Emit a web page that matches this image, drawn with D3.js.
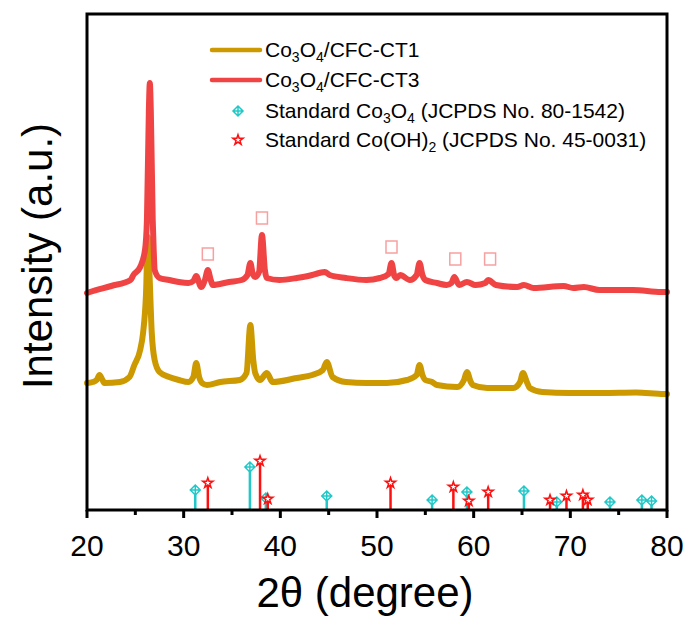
<!DOCTYPE html>
<html>
<head>
<meta charset="utf-8">
<script src="https://cdn.jsdelivr.net/npm/d3@7"></script>
<style>
  body { margin: 0; background: #fff; }
  text { font-family: "Liberation Sans", Arial, sans-serif; fill: #000; }
</style>
</head>
<body>
<div id="chart"></div>
<script>
// XRD patterns, 2theta (degree) vs intensity (a.u.)
const ct3 = [
  [20.0, 217], [20.3, 218], [22.5, 224], [24.5, 230], [24.8, 235], [25.5, 243], [26.0, 260],
  [26.2, 290], [26.4, 400], [26.5, 427], [26.6, 400], [26.8, 290], [26.9, 260], [27.0, 240],
  [27.5, 232], [28.5, 230], [29.5, 228], [30.5, 227], [31.0, 229], [31.3, 234], [31.8, 223],
  [32.2, 230], [32.5, 240], [32.8, 230], [33.0, 225], [34.7, 228], [36.0, 230], [36.6, 235],
  [36.9, 247], [37.15, 236], [37.4, 233], [37.8, 238], [38.1, 275], [38.4, 240], [38.6, 232],
  [39.9, 230], [41.7, 232], [43.3, 235], [44.0, 237], [44.6, 238], [45.1, 235], [46.8, 232],
  [48.9, 230], [50.3, 232], [51.2, 236], [51.5, 247], [51.8, 234], [52.0, 232], [52.4, 235],
  [53.4, 230], [54.1, 235], [54.4, 247], [54.7, 235], [55.0, 230], [56.2, 227], [57.2, 225],
  [57.7, 227], [58.0, 233], [58.5, 225], [59.3, 228], [60.2, 225], [61.2, 227], [61.5, 230],
  [62.3, 225], [64.5, 223], [65.2, 225], [66.2, 222], [69.3, 224], [70.3, 222], [71.4, 223],
  [73.0, 220], [76.5, 220], [79.4, 218], [80.0, 218]
];
const ct1 = [
  [20.0, 127], [20.6, 128], [21.0, 130], [21.3, 135], [21.6, 130], [21.8, 127], [23.4, 128],
  [24.4, 133], [24.9, 145], [25.5, 160], [25.8, 177], [26.1, 215], [26.3, 273], [26.45, 240],
  [26.7, 177], [27.0, 150], [27.5, 138], [28.5, 133], [29.5, 130], [30.5, 128], [31.0, 133],
  [31.3, 147], [31.6, 133], [31.9, 127], [32.4, 125], [33.8, 128], [35.8, 130], [36.5, 137],
  [36.9, 185], [37.2, 150], [37.4, 137], [37.9, 130], [38.6, 137], [39.2, 128], [41.7, 132],
  [43.3, 135], [44.4, 140], [44.8, 148], [45.4, 133], [46.8, 128], [48.9, 127], [51.0, 127],
  [53.1, 130], [54.1, 135], [54.4, 145], [54.7, 135], [55.0, 130], [55.7, 128], [56.2, 125],
  [58.3, 123], [59.0, 130], [59.3, 138], [59.7, 128], [59.9, 125], [61.4, 122], [64.1, 122],
  [64.8, 128], [65.1, 137], [65.5, 128], [65.8, 122], [67.1, 118], [69.9, 117], [73.3, 117],
  [76.8, 117.5], [79.7, 116], [80.0, 116]
];

// standard reference lines (relative intensity, 0-100)
const co3o4Std = [
  [31.2, 40], [36.85, 86], [38.5, 24], [44.8, 28], [55.7, 20], [59.3, 36],
  [65.2, 38], [68.6, 16], [74.1, 16], [77.4, 20], [78.4, 18]
];
const cooh2Std = [
  [32.5, 54], [37.9, 98], [38.7, 22], [51.4, 54], [57.9, 46], [59.5, 18],
  [61.5, 36], [67.9, 20], [69.6, 28], [71.3, 30], [71.8, 20]
];

// peak marks (the hollow boxes above the CT3 curve)
const peakMarks = [[32.5, 256], [38.1, 292], [51.5, 263], [58.1, 251], [61.7, 251]];

const xTicks = [20, 30, 40, 50, 60, 70, 80];
const xMinor = [25, 35, 45, 55, 65, 75];

const W = 689, H = 619;
const margin = {top: 14, right: 22, bottom: 109, left: 87};
const width = W - margin.left - margin.right;
const height = H - margin.top - margin.bottom;

const svg = d3.select("#chart").append("svg")
    .attr("width", W)
    .attr("height", H);

const g = svg.append("g")
    .attr("transform", `translate(${margin.left},${margin.top})`);

const x = d3.scaleLinear().domain([20, 80]).range([0, width]);
const y = d3.scaleLinear().domain([0, height]).range([height, 0]);
const yStd = d3.scaleLinear().domain([0, 100]).range([height, height - 50]);

// standard sticks
function drawStd(data, color, shape) {
    let grp = g.append("g");
    grp.selectAll("line")
        .data(data)
        .enter().append("line")
        .attr("x1", d => x(d[0])).attr("x2", d => x(d[0]))
        .attr("y1", height).attr("y2", d => yStd(d[1]))
        .attr("stroke", color)
        .attr("stroke-width", 2.5);
    grp.selectAll("path")
        .data(data)
        .enter().append("path")
        .attr("d", shape)
        .attr("transform", d => `translate(${x(d[0])},${yStd(d[1])})`)
        .attr("fill", "#fff")
        .attr("stroke", color)
        .attr("stroke-width", 1.5);
}
const diamond = "M0,-5L5,0L0,5L-5,0ZM0,-5V5M-5,0H5";
const star = d3.symbol().type(d3.symbolStar).size(32)();
const cyan = "#22c8c8", red = "#ff1010";
drawStd(co3o4Std, cyan, diamond);
drawStd(cooh2Std, red, star);

// curves
const line = d3.line()
    .x(d => x(d[0]))
    .y(d => y(d[1]))
    .curve(d3.curveMonotoneX);

const gold = "#cc9900", redLine = "#f04444";
g.append("path").datum(ct1)
    .attr("d", line)
    .attr("fill", "none")
    .attr("stroke", gold)
    .attr("stroke-width", 6)
    .attr("stroke-linejoin", "round")
    .attr("stroke-linecap", "round");
g.append("path").datum(ct3)
    .attr("d", line)
    .attr("fill", "none")
    .attr("stroke", redLine)
    .attr("stroke-width", 6)
    .attr("stroke-linejoin", "round")
    .attr("stroke-linecap", "round");

// hollow boxes marking peaks
g.selectAll(".mark")
    .data(peakMarks)
    .enter().append("rect")
    .attr("class", "mark")
    .attr("x", d => x(d[0]) - 5.5)
    .attr("y", d => y(d[1]) - 6)
    .attr("width", 11)
    .attr("height", 12)
    .attr("fill", "none")
    .attr("stroke", "#f7a0a0")
    .attr("stroke-width", 1.5);

// frame
g.append("rect")
    .attr("width", width).attr("height", height)
    .attr("fill", "none")
    .attr("stroke", "#000")
    .attr("stroke-width", 3);

// x axis
const xAxis = g.append("g")
    .attr("transform", `translate(0,${height})`);
xAxis.selectAll(".major")
    .data(xTicks)
    .enter().append("line")
    .attr("x1", d => x(d)).attr("x2", d => x(d))
    .attr("y1", 0).attr("y2", 8)
    .attr("stroke", "#000").attr("stroke-width", 3);
xAxis.selectAll(".minor")
    .data(xMinor)
    .enter().append("line")
    .attr("x1", d => x(d)).attr("x2", d => x(d))
    .attr("y1", 0).attr("y2", 5)
    .attr("stroke", "#000").attr("stroke-width", 3);
xAxis.selectAll("text")
    .data(xTicks)
    .enter().append("text")
    .attr("x", d => x(d))
    .attr("y", 46)
    .attr("text-anchor", "middle")
    .attr("font-size", 30)
    .text(d => d);

svg.append("text")
    .attr("x", 365)
    .attr("y", 607)
    .attr("text-anchor", "middle")
    .attr("font-size", 42)
    .text("2θ (degree)");

svg.append("text")
    .attr("transform", `translate(52,${margin.top + 242}) rotate(-90)`)
    .attr("text-anchor", "middle")
    .attr("font-size", 42)
    .text("Intensity (a.u.)");

// legend
const legend = svg.append("g");
const lx = 212, tx = 265;
const rows = [
    {y: 50, type: "line", color: gold, parts: [["Co"], ["3", 1], ["O"], ["4", 1], ["/CFC-CT1"]]},
    {y: 80, type: "line", color: redLine, parts: [["Co"], ["3", 1], ["O"], ["4", 1], ["/CFC-CT3"]]},
    {y: 111, type: "diamond", color: cyan, parts: [["Standard Co"], ["3", 1], ["O"], ["4", 1], [" (JCPDS No. 80-1542)"]]},
    {y: 140, type: "star", color: red, parts: [["Standard Co(OH)"], ["2", 1], [" (JCPDS No. 45-0031)"]]}
];
rows.forEach(r => {
    if (r.type === "line") {
        legend.append("line")
            .attr("x1", lx).attr("x2", lx + 48)
            .attr("y1", r.y).attr("y2", r.y)
            .attr("stroke", r.color).attr("stroke-width", 4.5)
            .attr("stroke-linecap", "round");
    } else {
        legend.append("path")
            .attr("d", r.type === "diamond" ? diamond : star)
            .attr("transform", `translate(238,${r.y})`)
            .attr("fill", "#fff")
            .attr("stroke", r.color)
            .attr("stroke-width", 1.5);
    }
    let t = legend.append("text")
        .attr("x", tx).attr("y", r.y + 7)
        .attr("font-size", 21);
    r.parts.forEach(p => {
        let s = t.append("tspan").text(p[0]);
        if (p[1]) s.attr("font-size", 14).attr("dy", 5);
        else if (t.selectAll("tspan").size() > 1) s.attr("dy", -5);
    });
});
</script>
</body>
</html>
